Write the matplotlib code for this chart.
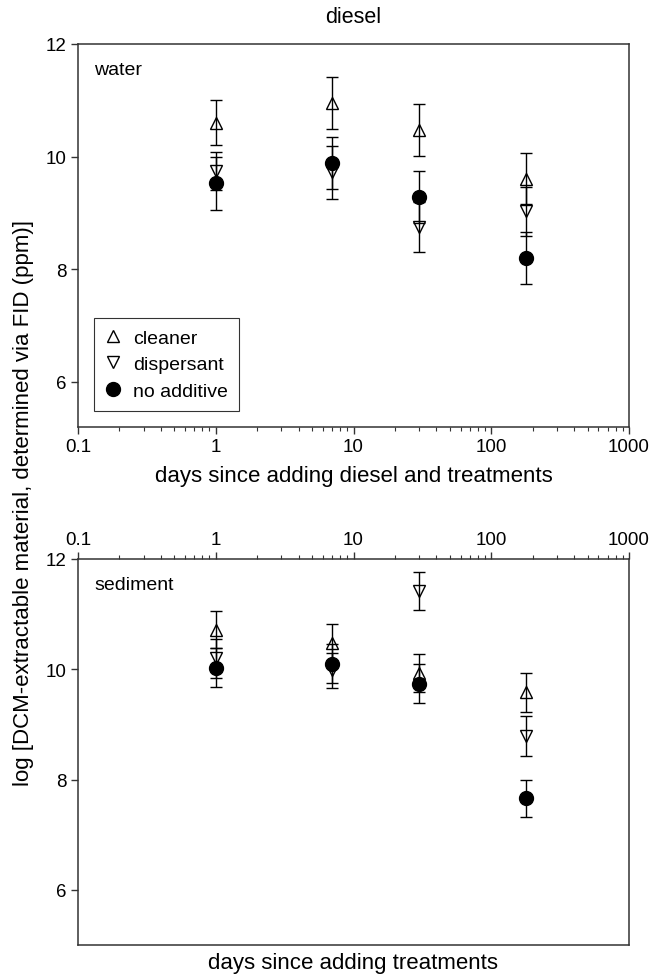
import matplotlib
matplotlib.use('Agg')
import matplotlib.pyplot as plt
from matplotlib.lines import Line2D
from matplotlib.ticker import LogLocator, NullFormatter, FixedLocator, FixedFormatter

plt.rcParams['font.family'] = ['Liberation Sans', 'DejaVu Sans']

days = [1, 7, 30, 180]
labels = ['cleaner', 'dispersant', 'no additive']
xticks = [0.1, 1, 10, 100, 1000]
xticklabels = ['0.1', '1', '10', '100', '1000']
yticks = [6, 8, 10, 12]

# water
water_cleaner = [10.6, 10.95, 10.47, 9.61]
water_cleaner_err = [0.40, 0.46, 0.46, 0.45]
water_dispersant = [9.75, 9.72, 8.75, 9.03]
water_dispersant_err = [0.34, 0.47, 0.44, 0.43]
water_none = [9.53, 9.88, 9.28, 8.20]
water_none_err = [0.47, 0.46, 0.46, 0.46]

# sediment
sed_cleaner = [10.72, 10.48, 9.93, 9.58]
sed_cleaner_err = [0.33, 0.34, 0.35, 0.36]
sed_dispersant = [10.20, 9.98, 11.42, 8.79]
sed_dispersant_err = [0.35, 0.32, 0.35, 0.36]
sed_none = [10.03, 10.10, 9.74, 7.66]
sed_none_err = [0.35, 0.35, 0.35, 0.34]

W, H = 654, 979
fig = plt.figure(figsize=(W / 100, H / 100), dpi=100)

def px_axes(x0, y0, x1, y1):
    return fig.add_axes([x0 / W, 1 - y1 / H, (x1 - x0) / W, (y1 - y0) / H])

ax1 = px_axes(78, 45, 629, 428)
ax2 = px_axes(78, 560, 629, 946)

styles = [
    dict(marker='^', ms=9, mfc='none', mec='black', mew=1.0),
    dict(marker='v', ms=9, mfc='none', mec='black', mew=1.0),
    dict(marker='o', ms=10, mfc='black', mec='black', mew=1.0),
]

def draw(ax, series, ymin, top_ticks):
    for (vals, errs), st in zip(series, styles):
        ax.errorbar(days, vals, yerr=errs, ls='none', color='black',
                    elinewidth=1.0, capsize=4, capthick=1.0, **st)
    ax.set_xscale('log')
    ax.set_xlim(0.1, 1000)
    ax.set_ylim(ymin, 12)
    ax.xaxis.set_major_locator(FixedLocator(xticks))
    ax.xaxis.set_major_formatter(FixedFormatter(xticklabels))
    ax.xaxis.set_minor_locator(LogLocator(base=10, subs=range(2, 10)))
    ax.xaxis.set_minor_formatter(NullFormatter())
    ax.set_yticks(yticks)
    for sp in ax.spines.values():
        sp.set_color('#333333')
        sp.set_linewidth(1.1)
    if top_ticks:
        ax.xaxis.tick_top()
        ax.xaxis.set_label_position('bottom')
    else:
        ax.xaxis.tick_bottom()
    ax.yaxis.tick_left()
    ax.tick_params(axis='both', which='major', direction='out', length=5,
                   width=1.0, color='#333333', labelsize=13.5, pad=3)
    ax.tick_params(axis='x', which='minor', direction='out', length=3,
                   width=0.8, color='#333333')

draw(ax1, [(water_cleaner, water_cleaner_err),
           (water_dispersant, water_dispersant_err),
           (water_none, water_none_err)], 5.2, False)
draw(ax2, [(sed_cleaner, sed_cleaner_err),
           (sed_dispersant, sed_dispersant_err),
           (sed_none, sed_none_err)], 5.0, True)

ax1.text(0.029, 0.955, 'water', transform=ax1.transAxes, fontsize=14,
         ha='left', va='top')
ax2.text(0.029, 0.955, 'sediment', transform=ax2.transAxes, fontsize=14,
         ha='left', va='top')

ax1.set_xlabel('days since adding diesel and treatments', fontsize=16, labelpad=7)
ax2.set_xlabel('days since adding treatments', fontsize=16, labelpad=5)
ax1.set_title('diesel', fontsize=15.5, pad=16)

fig.text(24 / W, 1 - 503 / H,
         'log [DCM-extractable material, determined via FID (ppm)]',
         rotation=90, ha='center', va='center', fontsize=16)

handles = [Line2D([], [], ls='none', **st) for st in styles]
leg = ax1.legend(handles, labels, loc='lower left', bbox_to_anchor=(0.029, 0.041),
                 borderaxespad=0, fontsize=14, frameon=True, fancybox=False,
                 handlelength=0.8, handletextpad=0.6, labelspacing=0.45,
                 borderpad=0.6)
leg.get_frame().set_edgecolor('black')
leg.get_frame().set_linewidth(0.8)

fig.savefig('out.png', dpi=100)
